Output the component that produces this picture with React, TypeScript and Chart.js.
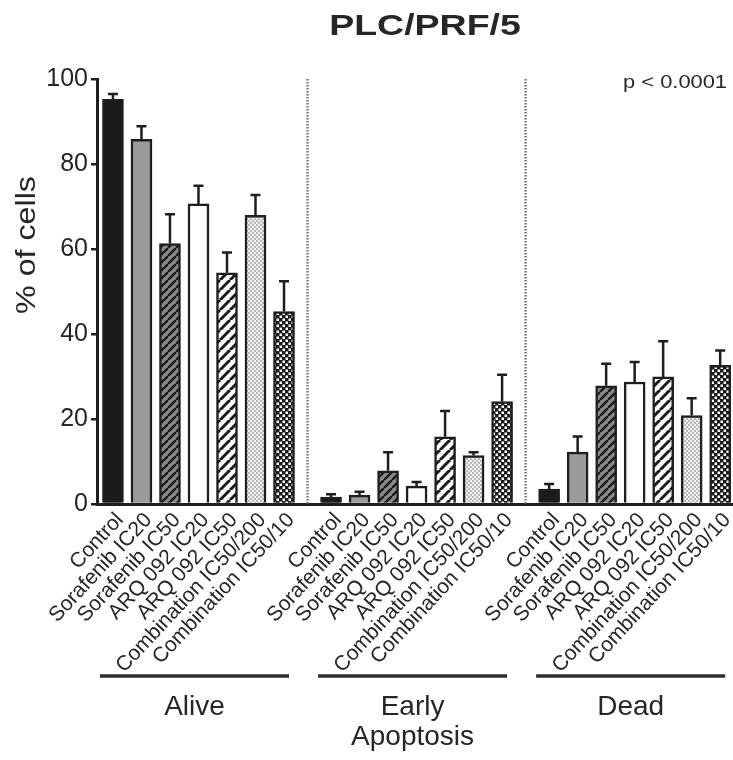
import React, { useEffect, useRef } from 'react';
import { Chart, registerables } from 'chart.js';

Chart.register(...registerables);

// ---------- data ----------
const chartTitle = 'PLC/PRF/5';
const yAxisTitle = '% of cells';
const pValueText = 'p < 0.0001';
const treatments = [
  'Control',
  'Sorafenib IC20',
  'Sorafenib IC50',
  'ARQ 092 IC20',
  'ARQ 092 IC50',
  'Combination IC50/200',
  'Combination IC50/10',
];
const groupLabels = [['Alive'], ['Early', 'Apoptosis'], ['Dead']];
const aliveMeans = [95.2, 85.8, 61.3, 70.6, 54.4, 67.9, 45.3];
const aliveErr = [1.3, 3.1, 6.9, 4.3, 4.8, 4.8, 7.1];
const earlyMeans = [1.6, 2.1, 7.8, 4.2, 15.8, 11.4, 24.1];
const earlyErr = [0.7, 0.8, 4.4, 1.0, 6.1, 0.8, 6.3];
const deadMeans = [3.5, 12.2, 27.8, 28.7, 29.9, 20.8, 32.6];
const deadErr = [1.2, 3.7, 5.2, 4.7, 8.4, 4.1, 3.5];
const yMin = 0;
const yMax = 100;
const yStep = 20;

// ---------- layout / style ----------
const FONT = "'Liberation Sans', Arial, Helvetica, sans-serif";
const INK = '#1e1e1e';
const TEXT = '#262626';
const GROUP_GAP = 1.65;

function tile(
  main: CanvasRenderingContext2D,
  size: number,
  draw: (c: CanvasRenderingContext2D, s: number) => void
): CanvasPattern {
  const cv = document.createElement('canvas');
  cv.width = size;
  cv.height = size;
  const c = cv.getContext('2d')!;
  draw(c, size);
  return main.createPattern(cv, 'repeat')!;
}

function hatch(main: CanvasRenderingContext2D, size: number, bg: string, fg: string, lw: number) {
  return tile(main, size, (c, s) => {
    c.fillStyle = bg;
    c.fillRect(0, 0, s, s);
    c.strokeStyle = fg;
    c.lineWidth = lw;
    for (let k = -1; k <= 1; k++) {
      c.beginPath();
      c.moveTo(k * s, s);
      c.lineTo(k * s + s, 0);
      c.stroke();
    }
  });
}

export default function App() {
  const ref = useRef<HTMLCanvasElement>(null);

  useEffect(() => {
    const canvas = ref.current!;
    const ctx = canvas.getContext('2d')!;

    const fillsPerTreatment: (string | CanvasPattern)[] = [
      '#1b1b1b',
      '#9b9b9b',
      hatch(ctx, 8, '#8a8a8a', '#1b1b1b', 2.4),
      '#ffffff',
      hatch(ctx, 10, '#ffffff', '#1b1b1b', 3),
      tile(ctx, 4, (c, s) => {
        c.fillStyle = '#f0f0f0';
        c.fillRect(0, 0, s, s);
        c.fillStyle = '#b8b8b8';
        c.fillRect(0, 0, 2, 2);
        c.fillRect(2, 2, 2, 2);
      }),
      tile(ctx, 6, (c, s) => {
        c.fillStyle = '#1b1b1b';
        c.fillRect(0, 0, s, s);
        c.fillStyle = '#ffffff';
        c.fillRect(0.5, 0.5, 2.5, 2.5);
        c.fillRect(3.5, 3.5, 2.5, 2.5);
      }),
    ];

    const groupMeans = [aliveMeans, earlyMeans, deadMeans];
    const groupErrs = [aliveErr, earlyErr, deadErr];
    const n = treatments.length;
    const stride = n - 1 + GROUP_GAP;

    const points: { x: number; y: number }[] = [];
    const errs: number[] = [];
    const tickPos: number[] = [];
    const tickText: string[] = [];
    const fills: (string | CanvasPattern)[] = [];
    groupMeans.forEach((arr, g) =>
      arr.forEach((v, i) => {
        const x = g * stride + i;
        points.push({ x, y: v });
        errs.push(groupErrs[g][i]);
        tickPos.push(x);
        tickText.push(treatments[i]);
        fills.push(fillsPerTreatment[i]);
      })
    );

    const extras = {
      id: 'extras',
      afterDatasetsDraw(chart: any) {
        const { ctx: c } = chart;
        const ys = chart.scales.y;
        const meta = chart.getDatasetMeta(0);
        c.save();
        c.strokeStyle = INK;
        c.lineWidth = 2.5;
        meta.data.forEach((bar: any, i: number) => {
          const top = ys.getPixelForValue(points[i].y);
          const end = ys.getPixelForValue(points[i].y + errs[i]);
          c.beginPath();
          c.moveTo(bar.x, top);
          c.lineTo(bar.x, end);
          c.moveTo(bar.x - 5, end);
          c.lineTo(bar.x + 5, end);
          c.stroke();
        });
        c.restore();
      },
      afterDraw(chart: any) {
        const { ctx: c, chartArea: a } = chart;
        const xs = chart.scales.x;
        c.save();
        // dotted separators between groups
        c.strokeStyle = '#7a7a7a';
        c.lineWidth = 2.5;
        c.setLineDash([1.5, 1.5]);
        for (let g = 0; g < groupLabels.length - 1; g++) {
          const px = xs.getPixelForValue(g * stride + n - 1 + GROUP_GAP / 2);
          c.beginPath();
          c.moveTo(px, a.top);
          c.lineTo(px, a.bottom);
          c.stroke();
        }
        c.setLineDash([]);

        c.fillStyle = TEXT;
        // title
        c.save();
        c.font = `bold 30px ${FONT}`;
        c.textAlign = 'center';
        c.textBaseline = 'alphabetic';
        c.translate((a.left + a.right) / 2 + 10, 35);
        c.scale(1.25, 1);
        c.fillText(chartTitle, 0, 0);
        c.restore();

        // p value
        c.save();
        c.font = `19px ${FONT}`;
        c.textAlign = 'right';
        c.textBaseline = 'alphabetic';
        c.translate(a.right - 6, 88);
        c.scale(1.15, 1);
        c.fillText(pValueText, 0, 0);
        c.restore();

        // y axis title
        c.save();
        c.font = `28px ${FONT}`;
        c.textAlign = 'center';
        c.textBaseline = 'middle';
        c.translate(27, a.top + 166);
        c.rotate(-Math.PI / 2);
        c.scale(1.15, 1);
        c.fillText(yAxisTitle, 0, 0);
        c.restore();

        // group brackets and labels
        groupLabels.forEach((lines, g) => {
          const x0 = xs.getPixelForValue(g * stride) - 13;
          const x1 = xs.getPixelForValue(g * stride + n - 1) + 5;
          const ly = a.bottom + 172;
          c.strokeStyle = '#2e2e2e';
          c.lineWidth = 3.5;
          c.beginPath();
          c.moveTo(x0, ly);
          c.lineTo(x1, ly);
          c.stroke();
          c.font = `28px ${FONT}`;
          c.textAlign = 'center';
          c.textBaseline = 'alphabetic';
          lines.forEach((t, k) => c.fillText(t, (x0 + x1) / 2, a.bottom + 211 + k * 30));
        });
        c.restore();
      },
    };

    const chart = new Chart(ctx, {
      type: 'bar',
      data: {
        datasets: [
          {
            data: points as any,
            backgroundColor: fills as any,
            borderColor: INK,
            borderWidth: 2.5,
            barThickness: 21,
            borderSkipped: 'start',
          },
        ],
      },
      options: {
        responsive: false,
        animation: false,
        devicePixelRatio: 1,
        layout: { padding: { top: 79, left: 0, right: 0, bottom: 0 } },
        plugins: {
          legend: { display: false },
          tooltip: { enabled: false },
          title: { display: false },
        },
        scales: {
          x: {
            type: 'linear',
            offset: false,
            min: -0.56,
            max: 2 * stride + n - 1 + 0.45,
            grid: { display: false, drawTicks: false },
            border: { display: true, color: INK, width: 3 },
            ticks: {
              autoSkip: false,
              minRotation: 47,
              maxRotation: 47,
              padding: 4,
              labelOffset: 7,
              color: TEXT,
              font: { family: FONT, size: 21 },
              callback: (_v: any, idx: number) => tickText[idx] ?? '',
            },
            afterBuildTicks: (s: any) => {
              s.ticks = tickPos.map((v) => ({ value: v }));
            },
            afterFit: (s: any) => {
              s.height = 256;
              s.paddingLeft = 0;
              s.paddingRight = 0;
            },
          },
          y: {
            min: yMin,
            max: yMax,
            ticks: {
              stepSize: yStep,
              padding: 3,
              color: TEXT,
              font: { family: FONT, size: 25 },
            },
            grid: {
              display: true,
              drawOnChartArea: false,
              drawTicks: true,
              tickLength: 6,
              color: INK,
              lineWidth: 2.5,
            },
            border: { display: true, color: INK, width: 3 },
            afterFit: (s: any) => {
              s.width = 97;
            },
          },
        },
      } as any,
      plugins: [extras],
    });

    return () => chart.destroy();
  }, []);

  return (
    <div style={{ position: 'fixed', left: 0, top: 0, width: 733, height: 760, background: '#fff' }}>
      <canvas ref={ref} width={733} height={760} style={{ display: 'block' }} />
    </div>
  );
}
